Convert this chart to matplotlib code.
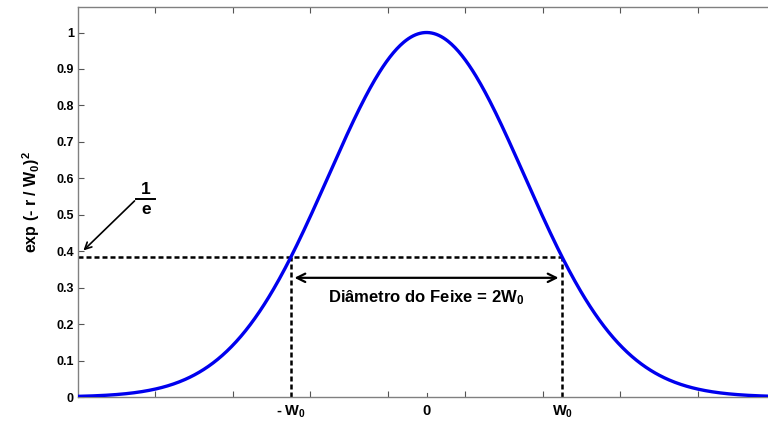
import numpy as np
import matplotlib
matplotlib.use("Agg")
import matplotlib.pyplot as plt

plt.rcParams['font.family'] = ['Liberation Sans', 'DejaVu Sans']
plt.rcParams['mathtext.default'] = 'regular'

# ---- data (axis units: tick spacing = 1) ----
x_limits = [-4.5, 4.5]
y_limits = [0.0, 1.07]
beam_width = 1.79          # Gaussian width of the curve
w0 = 1.755                 # position of +/- W0 markers
level_1e = 0.385           # 1/e level
arrow_level = 0.327
text_level = 0.272
x_ticks = [-3.5, -2.5, -1.5, -0.5, 0.5, 1.5, 2.5, 3.5]
y_ticks = [0, 0.1, 0.2, 0.3, 0.4, 0.5, 0.6, 0.7, 0.8, 0.9, 1.0]
y_tick_labels = ['0', '0.1', '0.2', '0.3', '0.4', '0.5', '0.6', '0.7', '0.8', '0.9', '1']
x_labels = [r'- W$_0$', '0', r'W$_0$']
x_label_pos = [-w0, 0.0, w0]
ylabel = r'exp (- r / W$_0$)$^2$'
diam_text = r'Diâmetro do Feixe = 2W$_0$'

r = np.linspace(x_limits[0], x_limits[1], 600)
intensity = np.exp(-(r / beam_width) ** 2)

fig = plt.figure(figsize=(7.68, 4.22), dpi=100)
ax = fig.add_axes([78 / 768, 25 / 422, 697 / 768, 390 / 422])

ax.plot(r, intensity, color='#0000ee', lw=2.4, zorder=3)

dash = (0, (2.0, 1.2))
ax.plot([x_limits[0], w0], [level_1e, level_1e], color='black', lw=1.8, linestyle=dash, zorder=2)
ax.plot([-w0, -w0], [0, level_1e], color='black', lw=1.8, linestyle=dash, zorder=2)
ax.plot([w0, w0], [0, level_1e], color='black', lw=1.8, linestyle=dash, zorder=2)

ax.annotate('', xy=(w0 - 0.05, arrow_level), xytext=(-w0 + 0.05, arrow_level),
            arrowprops=dict(arrowstyle='<->', color='black', lw=1.6,
                            mutation_scale=15, shrinkA=0, shrinkB=0))
ax.text(0, text_level, diam_text, ha='center', va='center', fontsize=12,
        fontweight='bold')

# 1/e annotation
ax.annotate('', xy=(-4.43, level_1e + 0.017), xytext=(-3.77, 0.538),
            arrowprops=dict(arrowstyle='->', color='black', lw=1.2,
                            mutation_scale=12, shrinkA=0, shrinkB=0))
ax.text(-3.62, 0.570, '1', ha='center', va='center', fontsize=12.5, fontweight='bold')
ax.plot([-3.75, -3.50], [0.544, 0.544], color='black', lw=1.4, clip_on=False)
ax.text(-3.62, 0.514, 'e', ha='center', va='center', fontsize=12.5, fontweight='bold')

ax.set_xlim(x_limits)
ax.set_ylim(y_limits)
ax.set_xticks(x_ticks)
ax.set_xticklabels([])
ax.set_yticks(y_ticks)
ax.set_yticklabels(y_tick_labels, fontsize=9, fontweight='bold')
ax.tick_params(direction='in', length=4, width=0.8, color='#555555',
               top=True, right=True, pad=3)
for s in ax.spines.values():
    s.set_color('#808080')
    s.set_linewidth(1.0)

# extra bottom tick at zero
ax.plot([0, 0], [0, 0.012], color='#555555', lw=0.8)
for xp, lab in zip(x_label_pos, x_labels):
    ax.text(xp, -0.018, lab, ha='center', va='top', fontsize=10.5, fontweight='bold',
            transform=ax.transData)

ax.set_ylabel(ylabel, fontsize=11.5, fontweight='bold', labelpad=10)

fig.savefig('out.png', dpi=100)
